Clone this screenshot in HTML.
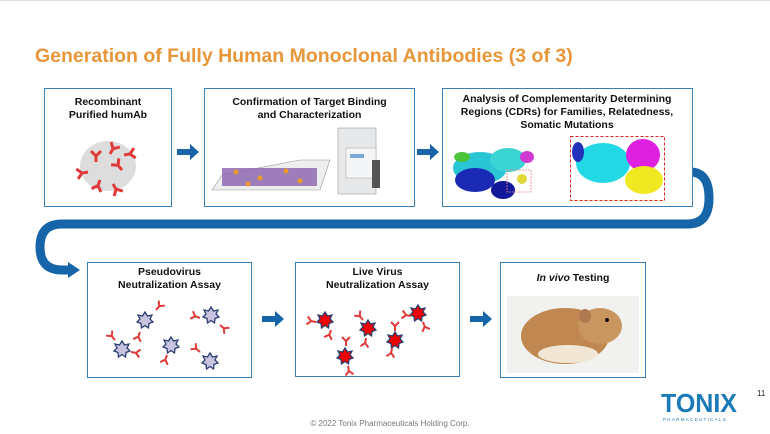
<!DOCTYPE html>
<html><head><meta charset="utf-8"><style>
html,body{margin:0;padding:0;background:#fff;}
body{width:770px;height:434px;position:relative;overflow:hidden;font-family:"Liberation Sans",sans-serif;}
.t{position:absolute;font-weight:bold;font-size:10.5px;text-align:center;color:#111;line-height:13px;}
</style></head><body>
<div style="position:absolute;left:0;top:0;width:770px;height:1px;background:#ddd"></div>
<div style="position:absolute;left:35px;top:45px;font-size:19.5px;font-weight:bold;color:#E8963A;white-space:nowrap">Generation of Fully Human Monoclonal Antibodies (3 of 3)</div>
<svg width="770" height="434" style="position:absolute;left:0;top:0">
<defs>
<g id="ab"><path d="M0 0 L0 -5 M0 -5 L-4 -9 M0 -5 L4 -9" stroke="#e03a3a" stroke-width="2" fill="none"/></g>
<g id="ab2"><path d="M0 0 L0 -6 M0 -6 L-5 -11 M0 -6 L5 -11" stroke="#e03a3a" stroke-width="3" fill="none"/></g>
<polygon id="star" points="0,-8 2.5,-4 7,-5 5,-1 8,2 4,3.5 3.5,8 0,5.5 -3.5,8 -4,3.5 -8,2 -5,-1 -7,-5 -2.5,-4" stroke="#2c3e70" stroke-width="1.3"/>
</defs>
<path d="M686 172 L690 172 Q709 172 709 198 Q709 224 688 224 L62 224 Q40 224 40 247 Q40 270 62 270 L70 270" stroke="#1565a8" stroke-width="9" fill="none"/>
<polygon points="68,262 80,270 68,278" fill="#1565a8"/>
<rect x="44.5" y="88.5" width="127" height="118" fill="#fff" stroke="#3b7fb7"/>
<rect x="204.5" y="88.5" width="210" height="118" fill="#fff" stroke="#3b7fb7"/>
<rect x="442.5" y="88.5" width="250" height="118" fill="#fff" stroke="#3b7fb7"/>
<rect x="87.5" y="262.5" width="164" height="115" fill="#fff" stroke="#3b7fb7"/>
<rect x="295.5" y="262.5" width="164" height="114" fill="#fff" stroke="#3b7fb7"/>
<rect x="500.5" y="262.5" width="145" height="115" fill="#fff" stroke="#3b7fb7"/>
<g fill="#1565a8">
<path d="M177 149 h13 v-5 l9 8 l-9 8 v-5 h-13z"/>
<path d="M417 149 h13 v-5 l9 8 l-9 8 v-5 h-13z"/>
<path d="M262 316 h13 v-5 l9 8 l-9 8 v-5 h-13z"/>
<path d="M470 316 h13 v-5 l9 8 l-9 8 v-5 h-13z"/>
</g>
<ellipse cx="108" cy="166" rx="28" ry="25" fill="#ddd"/>
<g transform="translate(96,162)"><use href="#ab2"/></g>
<g transform="translate(110,154) rotate(30)"><use href="#ab2"/></g>
<g transform="translate(122,170) rotate(-40)"><use href="#ab2"/></g>
<g transform="translate(100,180) rotate(200)"><use href="#ab2"/></g>
<g transform="translate(113,184) rotate(150)"><use href="#ab2"/></g>
<g transform="translate(88,172) rotate(-100)"><use href="#ab2"/></g>
<g transform="translate(124,155) rotate(80)"><use href="#ab2"/></g>
<polygon points="222,175 300,160 330,160 320,190 212,190" fill="#eee" stroke="#999" stroke-width="0.6"/>
<g fill="#8a62ad"><rect x="222" y="168" width="95" height="18" opacity="0.8"/></g>
<g fill="#e89a2a"><circle cx="236" cy="172" r="2.5"/><circle cx="260" cy="178" r="2.5"/><circle cx="286" cy="171" r="2.5"/><circle cx="300" cy="181" r="2.5"/><circle cx="248" cy="184" r="2.5"/></g>
<rect x="338" y="128" width="38" height="66" fill="#e6e8ea" stroke="#999" stroke-width="0.6"/>
<rect x="346" y="148" width="30" height="30" fill="#f4f5f6" stroke="#aaa" stroke-width="0.5"/>
<rect x="350" y="154" width="14" height="4" fill="#7aa7d6"/>
<rect x="372" y="160" width="8" height="28" fill="#555"/>
<g>
<ellipse cx="480" cy="168" rx="27" ry="16" fill="#2ac6d6"/>
<ellipse cx="475" cy="180" rx="20" ry="12" fill="#1a2ab5"/>
<ellipse cx="508" cy="160" rx="18" ry="12" fill="#3bd4d4"/>
<ellipse cx="503" cy="190" rx="12" ry="9" fill="#12189a"/>
<ellipse cx="462" cy="157" rx="8" ry="5" fill="#4cc43a"/>
<ellipse cx="527" cy="157" rx="7" ry="6" fill="#d13ad1"/>
<ellipse cx="522" cy="179" rx="5" ry="5" fill="#e0d83a"/>
<rect x="507" y="170" width="24" height="22" fill="none" stroke="#e88" stroke-width="0.8" stroke-dasharray="2,1"/>
<rect x="570.5" y="136.5" width="94" height="64" fill="none" stroke="#d22" stroke-width="1" stroke-dasharray="3,2"/>
<ellipse cx="603" cy="163" rx="27" ry="20" fill="#22d8e4"/>
<ellipse cx="578" cy="152" rx="6" ry="10" fill="#2233bb"/>
<ellipse cx="643" cy="155" rx="17" ry="16" fill="#e020e0"/>
<ellipse cx="644" cy="180" rx="19" ry="14" fill="#f0e820"/>
</g>
<g fill="#c8c3df">
<g transform="translate(145,320)"><use href="#star"/></g>
<g transform="translate(211,315)"><use href="#star"/></g>
<g transform="translate(122,349)"><use href="#star"/></g>
<g transform="translate(171,345)"><use href="#star"/></g>
<g transform="translate(210,361)"><use href="#star"/></g>
</g>
<g fill="#e00">
<g transform="translate(325,320)"><use href="#star"/></g>
<g transform="translate(368,328)"><use href="#star"/></g>
<g transform="translate(418,313)"><use href="#star"/></g>
<g transform="translate(395,340)"><use href="#star"/></g>
<g transform="translate(345,356)"><use href="#star"/></g>
</g>
<g>
<g transform="translate(156,310) rotate(40)"><use href="#ab"/></g>
<g transform="translate(140,332) rotate(200)"><use href="#ab"/></g>
<g transform="translate(200,318) rotate(-70)"><use href="#ab"/></g>
<g transform="translate(220,325) rotate(130)"><use href="#ab"/></g>
<g transform="translate(115,340) rotate(-40)"><use href="#ab"/></g>
<g transform="translate(131,352) rotate(100)"><use href="#ab"/></g>
<g transform="translate(167,355) rotate(200)"><use href="#ab"/></g>
<g transform="translate(200,352) rotate(-50)"><use href="#ab"/></g>
<g transform="translate(316,322) rotate(-80)"><use href="#ab"/></g>
<g transform="translate(331,330) rotate(200)"><use href="#ab"/></g>
<g transform="translate(363,320) rotate(-40)"><use href="#ab"/></g>
<g transform="translate(366,338) rotate(190)"><use href="#ab"/></g>
<g transform="translate(411,316) rotate(-80)"><use href="#ab"/></g>
<g transform="translate(423,322) rotate(160)"><use href="#ab"/></g>
<g transform="translate(395,331) rotate(0)"><use href="#ab"/></g>
<g transform="translate(392,348) rotate(190)"><use href="#ab"/></g>
<g transform="translate(346,346) rotate(0)"><use href="#ab"/></g>
<g transform="translate(348,366) rotate(170)"><use href="#ab"/></g>
</g>
<rect x="507" y="296" width="132" height="77" fill="#f1f1f0"/>
<ellipse cx="565" cy="336" rx="44" ry="28" fill="#c08850"/>
<ellipse cx="600" cy="326" rx="22" ry="18" fill="#c99660"/>
<ellipse cx="568" cy="354" rx="30" ry="9" fill="#f2e6d4"/>
<ellipse cx="585" cy="316" rx="6" ry="7" fill="#b07a50"/>
<circle cx="607" cy="320" r="2" fill="#111"/>
<text x="661" y="412" font-family="Liberation Sans" font-weight="bold" font-size="26" fill="#1a7bb8" textLength="76" lengthAdjust="spacingAndGlyphs">TONIX</text>
<text x="663" y="421" font-family="Liberation Sans" font-size="4.5" fill="#1a7bb8" letter-spacing="1.3">PHARMACEUTICALS</text>
</svg>
<div class="t" style="left:44px;top:96px;width:128px">Recombinant<br>Purified humAb</div>
<div class="t" style="left:204px;top:96px;width:211px">Confirmation of Target Binding<br>and Characterization</div>
<div class="t" style="left:436px;top:93px;width:262px">Analysis of Complementarity Determining<br>Regions (CDRs) for Families, Relatedness,<br>Somatic Mutations</div>
<div class="t" style="left:87px;top:266px;width:165px">Pseudovirus<br>Neutralization Assay</div>
<div class="t" style="left:295px;top:266px;width:165px">Live Virus<br>Neutralization Assay</div>
<div class="t" style="left:500px;top:272px;width:146px"><i>In vivo</i> Testing</div>
<div style="position:absolute;left:757px;top:389px;font-size:8px;color:#222">11</div>
<div style="position:absolute;left:0;width:770px;top:419px;text-align:center;font-size:8px;color:#777;padding-left:10px;box-sizing:border-box">© 2022 Tonix Pharmaceuticals Holding Corp.</div>
</body></html>
